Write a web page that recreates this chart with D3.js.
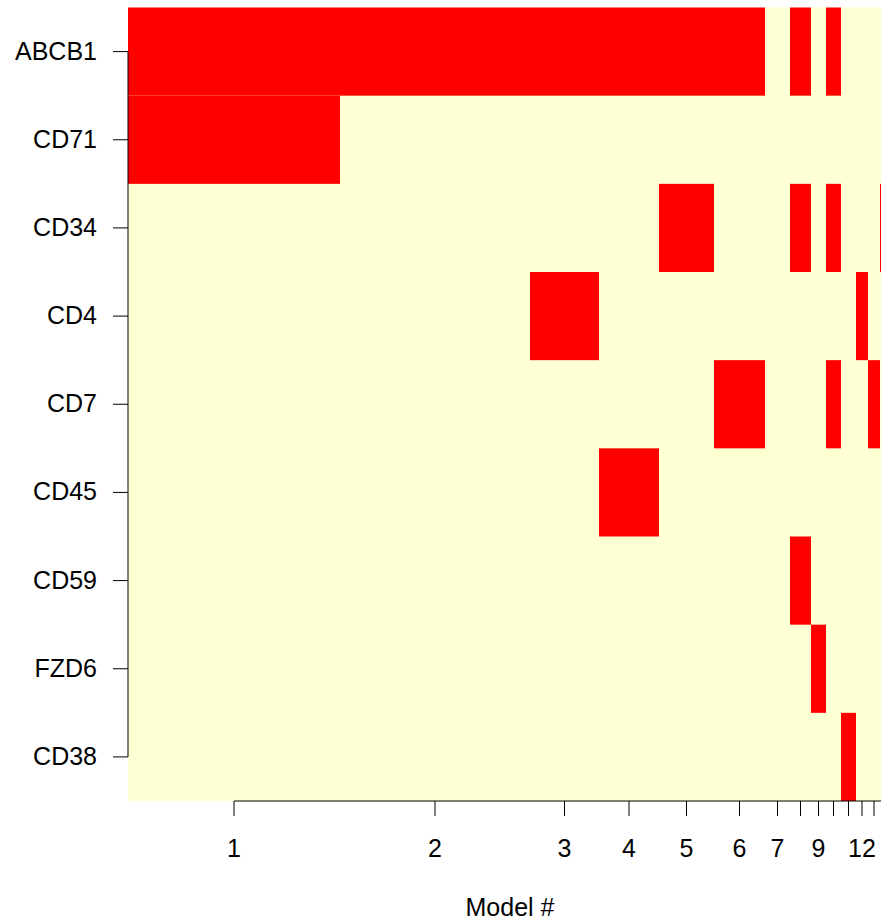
<!DOCTYPE html>
<html>
<head>
<meta charset="utf-8">
<script src="https://cdn.jsdelivr.net/npm/d3@7"></script>
<style>
  html, body { margin: 0; padding: 0; background: #fff; }
  svg { display: block; }
  text { font-family: "Liberation Sans", Arial, sans-serif; fill: #000; }
</style>
</head>
<body>
<div id="chart"></div>
<script>
// Variables shown on the y axis, top to bottom
const variables = ["ABCB1", "CD71", "CD34", "CD4", "CD7", "CD45", "CD59", "FZD6", "CD38"];

// Posterior probability of each model (models ordered by probability)
const postProb = [0.212, 0.190, 0.069, 0.060, 0.055, 0.051, 0.025, 0.021,
                  0.015, 0.015, 0.015, 0.012, 0.012, 0.012];

// Variables included in each model
const modelVars = [
  ["ABCB1", "CD71"],
  ["ABCB1"],
  ["ABCB1", "CD4"],
  ["ABCB1", "CD45"],
  ["ABCB1", "CD34"],
  ["ABCB1", "CD7"],
  [],
  ["ABCB1", "CD34", "CD59"],
  ["FZD6"],
  ["ABCB1", "CD34", "CD7"],
  ["CD38"],
  ["CD4"],
  ["CD7"],
  ["CD34"]
];

// Tick labels = model numbers
const modelLabels = postProb.map((_, i) => String(i + 1));

const xLabel = "Model #";
const colIncluded = "#ff0000";
const colExcluded = "#ffffd4";

const W = 881, H = 921;
const plot = { left: 128, right: 892, top: 7.5, bottom: 801 };

const svg = d3.select("#chart").append("svg")
  .attr("width", W).attr("height", H);

// Cumulative model boundaries
const cum = [0];
postProb.forEach(p => cum.push(cum[cum.length - 1] + p));
const total = cum[cum.length - 1];

const x = d3.scaleLinear().domain([0, total]).range([plot.left, plot.right]);
const y = d3.scaleBand().domain(variables).range([plot.top, plot.bottom]).padding(0);

// Background: all cells excluded
svg.append("rect")
  .attr("x", x(0)).attr("y", plot.top)
  .attr("width", x(total) - x(0)).attr("height", plot.bottom - plot.top)
  .attr("fill", colExcluded);

// Included cells
const cells = [];
modelVars.forEach((vars, i) => {
  vars.forEach(v => cells.push({ model: i, v }));
});
svg.append("g").selectAll("rect").data(cells).join("rect")
  .attr("x", d => x(cum[d.model]))
  .attr("width", d => x(cum[d.model + 1]) - x(cum[d.model]))
  .attr("y", d => y(d.v))
  .attr("height", y.bandwidth())
  .attr("fill", colIncluded);

// Y axis
const fontSize = 25;
const yAxis = d3.axisLeft(y).tickSize(15).tickPadding(16);
const gy = svg.append("g").attr("transform", `translate(${plot.left},0)`).call(yAxis);
gy.select(".domain").remove();
const yc = variables.map(v => y(v) + y.bandwidth() / 2);
gy.append("line")
  .attr("x1", 0).attr("x2", 0)
  .attr("y1", yc[0]).attr("y2", yc[yc.length - 1])
  .attr("stroke", "#000");
gy.selectAll(".tick line").attr("stroke", "#000");
gy.selectAll(".tick text")
  .attr("font-size", fontSize)
  .attr("font-family", "Liberation Sans, Arial, sans-serif")
  .attr("fill", "#000");

// X axis: ticks at model centres
const centres = postProb.map((p, i) => (cum[i] + cum[i + 1]) / 2);
const gx = svg.append("g").attr("transform", `translate(0,${plot.bottom})`);
gx.append("line")
  .attr("x1", x(centres[0])).attr("x2", x(centres[centres.length - 1]))
  .attr("y1", 0).attr("y2", 0).attr("stroke", "#000");
gx.selectAll("line.tick").data(centres).join("line")
  .attr("class", "tick")
  .attr("x1", d => x(d)).attr("x2", d => x(d))
  .attr("y1", 0).attr("y2", 15).attr("stroke", "#000");

// Labels drawn left to right, skipping any that would crowd the previous one
const probe = svg.append("text").attr("font-size", fontSize).text("m");
const gap = probe.node().getComputedTextLength();
probe.remove();
let lastRight = -Infinity;
modelLabels.forEach((lab, i) => {
  const t = gx.append("text")
    .attr("x", x(centres[i])).attr("y", 56)
    .attr("text-anchor", "middle")
    .attr("font-size", fontSize)
    .text(lab);
  const w = t.node().getComputedTextLength();
  const left = x(centres[i]) - w / 2;
  if (left < lastRight + gap) {
    t.remove();
  } else {
    lastRight = x(centres[i]) + w / 2;
  }
});

// Axis title
svg.append("text")
  .attr("x", (plot.left + plot.right) / 2).attr("y", 916)
  .attr("text-anchor", "middle")
  .attr("font-size", fontSize)
  .text(xLabel);
</script>
</body>
</html>
